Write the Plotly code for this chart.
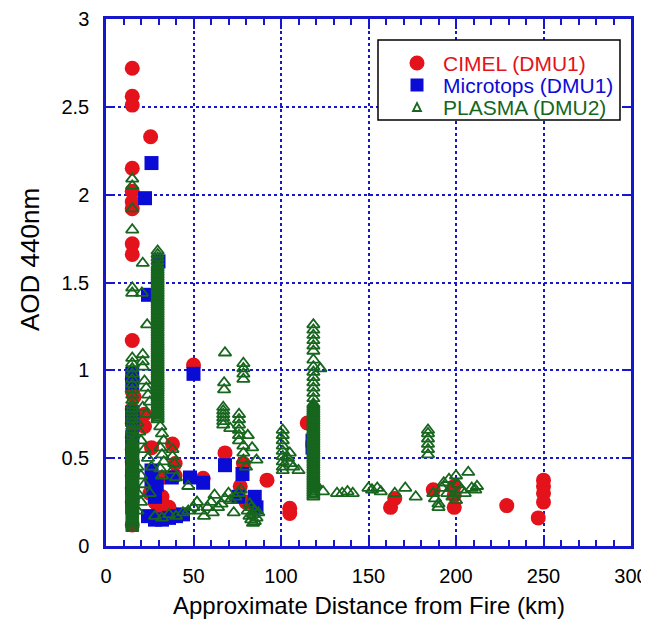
import plotly.graph_objects as go

# ---------------- data ----------------
cimel_x = [15, 15, 15, 25.5, 15, 15, 15, 15, 15, 15, 15, 15, 15, 15, 15, 15, 15, 15, 15, 15, 15, 15,
           22, 22, 16, 26, 26, 25, 28, 32, 32, 30, 38, 39.5, 39.5, 36, 50, 55.5, 68, 78.5, 76.7, 80,
           92, 105, 105, 115, 162.6, 165, 187, 199, 199, 199, 229, 250, 250, 250, 250, 247]
cimel_y = [2.72, 2.56, 2.51, 2.33, 2.15, 2.02, 1.96, 1.92, 1.72, 1.66, 1.17, 0.95, 0.88, 0.78, 0.70,
           0.62, 0.55, 0.48, 0.40, 0.33, 0.25, 0.12,
           0.75, 0.68, 0.85, 0.56, 0.38, 0.30, 0.25, 0.39, 0.28, 0.20, 0.58, 0.47, 0.40, 0.22, 1.03,
           0.385, 0.53, 0.47, 0.34, 0.25, 0.375, 0.215, 0.185, 0.70, 0.22, 0.27, 0.32, 0.34, 0.29,
           0.22, 0.23, 0.375, 0.34, 0.30, 0.25, 0.16]

microtops_x = [22.3, 26, 24, 30, 15, 15, 15, 15, 15, 15, 15, 15, 15, 15, 15, 15, 26, 26, 27, 28, 29,
               24, 28, 32, 36, 40, 44, 37.6, 48, 50, 55.5, 68, 78, 75.6, 85, 86, 118, 118]
microtops_y = [1.98, 2.18, 1.43, 1.62, 0.98, 0.93, 0.76, 0.72, 0.62, 0.56, 0.50, 0.45, 0.40, 0.33,
               0.29, 0.22, 0.43, 0.37, 0.32, 0.28, 0.35, 0.17, 0.15, 0.15, 0.16, 0.17, 0.18, 0.39,
               0.39, 0.98, 0.36, 0.46, 0.41, 0.28, 0.28, 0.22, 0.60, 0.56]

# PLASMA: dense columns at three sites (distance, AOD values)
plasma_col_x = [15, 29.5, 118.5]
plasma_col_y = [
    [0.10, 0.11, 0.12, 0.13, 0.14, 0.15, 0.16, 0.17, 0.18, 0.19, 0.20, 0.21, 0.22, 0.23, 0.24,
     0.25, 0.26, 0.27, 0.28, 0.29, 0.30, 0.31, 0.32, 0.33, 0.34, 0.35, 0.36, 0.37, 0.38, 0.39,
     0.40, 0.41, 0.42, 0.43, 0.44, 0.45, 0.46, 0.47, 0.48, 0.49, 0.50, 0.51, 0.52, 0.53, 0.54,
     0.55, 0.56, 0.57, 0.58, 0.59, 0.60, 0.62, 0.64, 0.66, 0.68, 0.70, 0.72, 0.74, 0.76, 0.78,
     0.80, 0.83, 0.86, 0.89, 0.92, 0.95, 0.98, 1.01, 1.04, 1.07,
     1.44, 1.47, 1.80, 1.92, 2.05, 2.09],
    [0.72, 0.73, 0.74, 0.75, 0.76, 0.77, 0.78, 0.79, 0.80, 0.81, 0.82, 0.83, 0.84, 0.85, 0.86,
     0.87, 0.88, 0.89, 0.90, 0.91, 0.92, 0.93, 0.94, 0.95, 0.96, 0.97, 0.98, 0.99, 1.00, 1.01,
     1.02, 1.03, 1.04, 1.05, 1.06, 1.07, 1.08, 1.09, 1.10, 1.11, 1.12, 1.13, 1.14, 1.15, 1.16,
     1.17, 1.18, 1.19, 1.20, 1.21, 1.22, 1.23, 1.24, 1.25, 1.26, 1.27, 1.28, 1.29, 1.30, 1.31,
     1.32, 1.33, 1.34, 1.35, 1.36, 1.37, 1.38, 1.39, 1.40, 1.41, 1.42, 1.43, 1.44, 1.45, 1.46,
     1.47, 1.48, 1.49, 1.50, 1.51, 1.52, 1.53, 1.54, 1.55, 1.56, 1.57, 1.58, 1.59, 1.60, 1.62,
     1.64, 1.66, 1.68],
    [0.28, 0.29, 0.30, 0.31, 0.32, 0.33, 0.34, 0.35, 0.36, 0.37, 0.38, 0.39, 0.40, 0.41, 0.42,
     0.43, 0.44, 0.45, 0.46, 0.47, 0.48, 0.49, 0.50, 0.51, 0.52, 0.53, 0.54, 0.55, 0.56, 0.57,
     0.58, 0.59, 0.60, 0.61, 0.62, 0.63, 0.64, 0.65, 0.66, 0.67, 0.68, 0.69, 0.70, 0.71, 0.72,
     0.73, 0.74, 0.75, 0.76, 0.77, 0.78, 0.79, 0.80, 0.81, 0.84, 0.87, 0.90, 0.93, 0.96, 0.99,
     1.02, 1.06, 1.11, 1.14, 1.17, 1.20, 1.23, 1.26],
]
# PLASMA: scattered points
plasma_x = [21, 20.5, 23.5, 21, 21, 21, 22, 23, 24, 25, 21, 23, 18, 19, 20, 22, 24, 26, 18, 20, 22,
            25, 18, 20, 18,
            31, 32, 33, 31, 32, 33, 31, 32, 38, 38, 39, 38, 40,
            28, 32, 36, 40, 44, 47, 50, 47,
            52, 54, 56, 58, 60, 61, 62, 64, 66, 68, 70, 71, 73, 74, 76, 77,
            81, 82, 83, 84, 85, 86, 83, 85, 87, 82, 84,
            67, 67, 67, 67, 67, 67, 71, 68, 67.5, 67.5,
            76, 76, 76, 76, 76, 76, 78.5, 78.5, 78.5, 78.5, 81, 83.5, 86, 78.5, 78.5, 78.5, 80,
            101, 101, 101, 101, 101, 101, 101, 101, 101, 104, 105, 107, 110, 105,
            122.5, 124, 120,
            132, 135, 138, 141, 150, 152, 155, 157, 165, 171, 177,
            184, 184, 184, 184, 184, 184,
            187, 188, 190, 192, 193, 195, 196, 197, 198, 200, 201, 203, 205, 207, 209, 211, 212,
            190, 200]
plasma_y = [1.61, 1.44, 1.26, 1.09, 1.05, 1.02, 0.94, 0.90, 0.86, 0.82, 0.79, 0.75, 0.70, 0.65,
            0.60, 0.55, 0.50, 0.45, 0.45, 0.40, 0.35, 0.30, 0.30, 0.25, 0.20,
            0.68, 0.64, 0.60, 0.56, 0.52, 0.48, 0.44, 0.40, 0.55, 0.51, 0.47, 0.43, 0.39,
            0.17, 0.16, 0.18, 0.17, 0.19, 0.20, 0.22, 0.34,
            0.25, 0.20, 0.17, 0.22, 0.25, 0.19, 0.29, 0.22, 0.24, 0.27, 0.30, 0.26, 0.19, 0.28,
            0.30, 0.32,
            0.20, 0.17, 0.15, 0.18, 0.20, 0.16, 0.22, 0.14, 0.19, 0.24, 0.13,
            0.79, 0.77, 0.75, 0.73, 0.71, 0.69, 0.67, 1.10, 0.93, 0.89,
            0.75, 0.72, 0.69, 0.66, 0.63, 0.60, 1.04, 1.01, 0.98, 0.95, 0.63, 0.56, 0.49, 0.57,
            0.53, 0.49, 0.45,
            0.66, 0.63, 0.60, 0.57, 0.54, 0.51, 0.48, 0.45, 0.43, 0.50, 0.47, 0.45, 0.43, 0.53,
            1.01, 0.31, 0.35,
            0.30, 0.30, 0.31, 0.30, 0.33, 0.32, 0.33, 0.31, 0.30, 0.33, 0.28,
            0.52, 0.55, 0.58, 0.61, 0.64, 0.66,
            0.30, 0.27, 0.24, 0.33, 0.36, 0.30, 0.38, 0.33, 0.28, 0.40, 0.35, 0.32, 0.30, 0.42,
            0.33, 0.32, 0.34,
            0.22, 0.26]

x_ticks = [0, 50, 100, 150, 200, 250, 300]
y_ticks = [0, 0.5, 1, 1.5, 2, 2.5, 3]
y_tick_text = ["0", "0.5", "1", "1.5", "2", "2.5", "3"]

series_names = ["CIMEL (DMU1)", "Microtops (DMU1)", "PLASMA (DMU2)"]
x_title = "Approximate Distance from Fire (km)"
y_title = "AOD 440nm"

# ---------------- styling ----------------
RED = "#e3121b"
BLUE = "#0b0bd6"
GREEN = "#17661e"
FRAME = "#1616cc"
FONT = "Arial, Liberation Sans, sans-serif"

# the page body adds an 8px margin, so the figure is sized to fit the window
OFF = 8
W, H = 649 - OFF, 620 - OFF
# plot area in window pixels: x 106..631, y 19..546
L, R, T, B = 106 - OFF, 649 - 631, 19 - OFF, 620 - 546
PW, PH = W - L - R, H - T - B


def px(xp):
    # window pixel x -> paper coordinate
    return (xp - OFF - L) / PW


def py(yp):
    # window pixel y -> paper coordinate
    return (H - B - (yp - OFF)) / PH


# assemble PLASMA from columns + scattered points
all_plasma_x = []
all_plasma_y = []
for cx, ys in zip(plasma_col_x, plasma_col_y):
    all_plasma_x += [cx] * len(ys)
    all_plasma_y += ys
all_plasma_x += plasma_x
all_plasma_y += plasma_y

fig = go.Figure()
fig.add_trace(go.Scatter(
    x=cimel_x, y=cimel_y, mode="markers", name=series_names[0], showlegend=False,
    marker=dict(symbol="circle", size=15, color=RED, line=dict(width=0)),
))
fig.add_trace(go.Scatter(
    x=microtops_x, y=microtops_y, mode="markers", name=series_names[1], showlegend=False,
    marker=dict(symbol="square", size=14, color=BLUE, line=dict(width=0)),
))
fig.add_trace(go.Scatter(
    x=all_plasma_x, y=all_plasma_y, mode="markers", name=series_names[2], showlegend=False,
    marker=dict(symbol="triangle-up-open", size=11, color=GREEN, line=dict(width=1.8, color=GREEN)),
))

axis_common = dict(
    showline=True, linecolor=FRAME, linewidth=2.5, mirror="ticks",
    ticks="inside", tickcolor=FRAME, tickwidth=2,
    showgrid=True, gridcolor=FRAME, griddash="dot", gridwidth=1.6,
    zeroline=False, automargin=False,
    tickfont=dict(family=FONT, size=20, color="black"),
)

fig.update_xaxes(
    range=[0, 300], tickmode="array", tickvals=x_ticks, ticklen=10, ticklabelstandoff=10,
    minor=dict(dtick=10, ticks="inside", ticklen=6, tickcolor=FRAME, tickwidth=2, showgrid=False),
    **axis_common,
)
fig.update_yaxes(
    range=[0, 3], tickmode="array", tickvals=y_ticks, ticktext=y_tick_text, ticklen=9,
    ticklabelstandoff=10,
    **axis_common,
)

# legend box (drawn as layout shapes + text)
legend_rows_y = [63, 85, 107]
shapes = [
    dict(type="rect", xref="paper", yref="paper", x0=px(378), x1=px(620), y0=py(120), y1=py(40),
         line=dict(color="black", width=1.5), fillcolor="white", layer="above"),
    dict(type="circle", xref="paper", yref="paper", x0=px(409.5), x1=px(424.5),
         y0=py(legend_rows_y[0] + 7.5), y1=py(legend_rows_y[0] - 7.5),
         line=dict(width=0), fillcolor=RED, layer="above"),
    dict(type="rect", xref="paper", yref="paper", x0=px(410.5), x1=px(423.5),
         y0=py(legend_rows_y[1] + 6.5), y1=py(legend_rows_y[1] - 6.5),
         line=dict(width=0), fillcolor=BLUE, layer="above"),
    dict(type="path", xref="paper", yref="paper",
         path="M %f %f L %f %f L %f %f Z" % (px(413), py(legend_rows_y[2] + 4), px(421), py(legend_rows_y[2] + 4),
                                           px(417), py(legend_rows_y[2] - 4)),
         line=dict(color=GREEN, width=1.8), layer="above"),
]
annotations = []
for name, yrow, col in zip(series_names, legend_rows_y, [RED, BLUE, GREEN]):
    annotations.append(dict(
        xref="paper", yref="paper", x=px(441), y=py(yrow), xanchor="left", yanchor="middle",
        text=name, showarrow=False, font=dict(family=FONT, size=21, color=col),
    ))
annotations.append(dict(
    xref="paper", yref="paper", x=0.5, y=py(605), xanchor="center", yanchor="middle",
    text=x_title, showarrow=False, font=dict(family=FONT, size=24, color="black"),
))
annotations.append(dict(
    xref="paper", yref="paper", x=px(30), y=py(260), xanchor="center", yanchor="middle",
    text=y_title, textangle=-90, showarrow=False, font=dict(family=FONT, size=26, color="black"),
))

fig.update_layout(
    width=W, height=H,
    margin=dict(l=L, r=R, t=T, b=B),
    paper_bgcolor="white", plot_bgcolor="white",
    font=dict(family=FONT),
    showlegend=False,
    shapes=shapes,
    annotations=annotations,
)

fig.write_html("out.html")
